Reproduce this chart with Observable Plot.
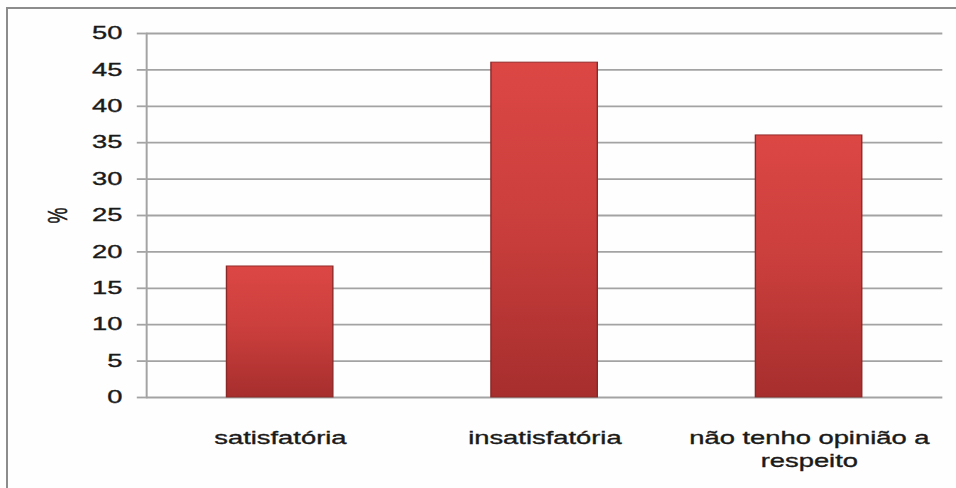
<!DOCTYPE html>
<html>
<head>
<meta charset="utf-8">
<script src="https://cdn.jsdelivr.net/npm/d3@7"></script>
<script src="https://cdn.jsdelivr.net/npm/@observablehq/plot@0.6"></script>
<style>
  html, body { margin: 0; padding: 0; background: #fff; }
  #wrap { position: relative; width: 956px; height: 488px; overflow: hidden; background: #fefefe; }
  #border { position: absolute; left: 6px; top: 7px; width: 2000px; height: 2000px;
            border-left: 2px solid #8c8c8c; border-top: 2px solid #8c8c8c; }
  #chart { position: absolute; left: 0; top: 0; }
  #chart svg text { stroke: #1a1a1a; stroke-width: 0.35px; }
</style>
</head>
<body>
<div id="wrap"><div id="border"></div><div id="chart"></div></div>
<script>
const categories = ["satisfatória", "insatisfatória", "não tenho opinião a respeito"];
const values = [18, 46, 36];
const tickLabels = ["satisfatória", "insatisfatória", "não tenho opinião a\nrespeito"];
const yTicks = [0, 5, 10, 15, 20, 25, 30, 35, 40, 45, 50];
const yLabel = "%";

const data = categories.map((c, i) => ({category: c, value: values[i]}));

// the reference image is stretched horizontally; draw at a narrower width and stretch the SVG
const stretch = 1.52;
const W = Math.round(956 / stretch);

const plot = Plot.plot({
  width: W,
  height: 488,
  marginLeft: 96,
  marginRight: 9,
  marginTop: 33,
  marginBottom: 91,
  style: {fontFamily: "'Liberation Sans', Arial, sans-serif", fontSize: "18px", background: "transparent", color: "#1a1a1a"},
  x: {domain: categories, paddingInner: 0.6, paddingOuter: 0.3, label: null},
  y: {domain: [0, 50], label: null},
  marks: [
    Plot.gridY(yTicks, {stroke: "#a3a3a3", strokeOpacity: 1, strokeWidth: 1.8}),
    Plot.frame({anchor: "left", stroke: "#a3a3a3", strokeWidth: 1.3}),
    Plot.barY(data, {x: "category", y: "value", fill: "url(#barGrad)", stroke: "#8a2827", strokeWidth: 0.9}),
    Plot.axisY(yTicks, {tickSize: 6, tickPadding: 10, stroke: "#a3a3a3", strokeWidth: 1.8, fill: "#1a1a1a", fontSize: 18, label: null}),
    Plot.axisX({tickSize: 0, tickPadding: 31, lineHeight: 1.25, fontSize: 18, fill: "#1a1a1a", label: null,
      tickFormat: d => tickLabels[categories.indexOf(d)]}),
    Plot.text([yLabel], {text: d => d, frameAnchor: "left", dx: -58, rotate: -90, textAnchor: "middle", lineAnchor: "middle", fontSize: 18, fill: "#1a1a1a"})
  ]
});

const svg = d3.select(plot);
const defs = svg.insert("defs", ":first-child");
const g = defs.append("linearGradient").attr("id", "barGrad").attr("x1", 0).attr("y1", 0).attr("x2", 0).attr("y2", 1);
g.append("stop").attr("offset", "0%").attr("stop-color", "#dc4744");
g.append("stop").attr("offset", "50%").attr("stop-color", "#c93e3c");
g.append("stop").attr("offset", "100%").attr("stop-color", "#a62e2d");

plot.setAttribute("width", 956);
plot.setAttribute("height", 488);
plot.setAttribute("preserveAspectRatio", "none");
plot.style.width = "956px";
plot.style.height = "488px";
plot.style.maxWidth = "none";
plot.style.background = "transparent";
document.getElementById("chart").appendChild(plot);
</script>
</body>
</html>
